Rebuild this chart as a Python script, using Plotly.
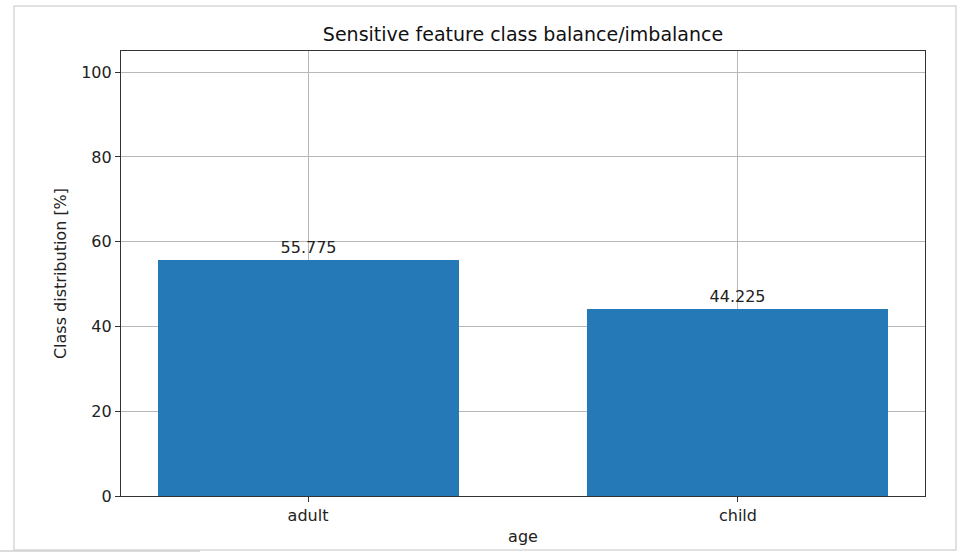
import plotly.graph_objects as go

categories = ["adult", "child"]
values = [55.775, 44.225]
value_labels = ["55.775", "44.225"]
y_ticks = [0, 20, 40, 60, 80, 100]

fig = go.Figure()
fig.add_trace(go.Bar(
    x=[0, 1], y=values, width=0.7,
    marker=dict(color="#2579b7", line=dict(width=0)),
    text=value_labels, textposition="outside", cliponaxis=False,
    textfont=dict(family="DejaVu Sans", size=16, color="#222"),
))

font = dict(family="DejaVu Sans", size=16, color="#222")
fig.update_layout(
    width=959, height=556,
    margin=dict(l=121, r=34, t=51, b=60),
    paper_bgcolor="white", plot_bgcolor="white",
    showlegend=False, bargap=0,
    font=font,
    title=dict(text="Sensitive feature class balance/imbalance", x=(121 + 925) / 2 / 959,
               xanchor="center", y=1 - 34 / 556, yanchor="middle",
               font=dict(family="DejaVu Sans", size=19, color="#111")),
)
fig.update_xaxes(
    range=[-0.435, 1.435], tickmode="array", tickvals=[0, 1], ticktext=categories,
    showgrid=True, gridcolor="#b8b8b8", gridwidth=1, layer="above traces",
    showline=True, linecolor="#333", linewidth=1.2, mirror=True,
    ticks="outside", ticklen=5, tickcolor="#333", zeroline=False,
    title=dict(text="age", standoff=6, font=font),
)
fig.update_yaxes(
    range=[0, 105], tickmode="array", tickvals=y_ticks,
    showgrid=True, gridcolor="#b8b8b8", gridwidth=1, layer="above traces",
    showline=True, linecolor="#333", linewidth=1.2, mirror=True,
    ticks="outside", ticklen=5, tickcolor="#333", zeroline=False,
    title=dict(text="Class distribution [%]", standoff=10, font=font),
)

# screenshot frame artifacts
fig.add_shape(type="rect", xref="paper", yref="paper",
              x0=(14 - 121) / (959 - 155), x1=(956 - 121) / (959 - 155),
              y0=-(550 - 496) / 445, y1=1 + (51 - 6) / 445,
              line=dict(color="#d8d8d8", width=1.5), fillcolor="rgba(0,0,0,0)", layer="below")
fig.add_shape(type="line", xref="paper", yref="paper",
              x0=(0 - 121) / 804, x1=(200 - 121) / 804,
              y0=-(551 - 496) / 445, y1=-(551 - 496) / 445,
              line=dict(color="#d0d0d0", width=1.5))

fig.write_html("out.html")
